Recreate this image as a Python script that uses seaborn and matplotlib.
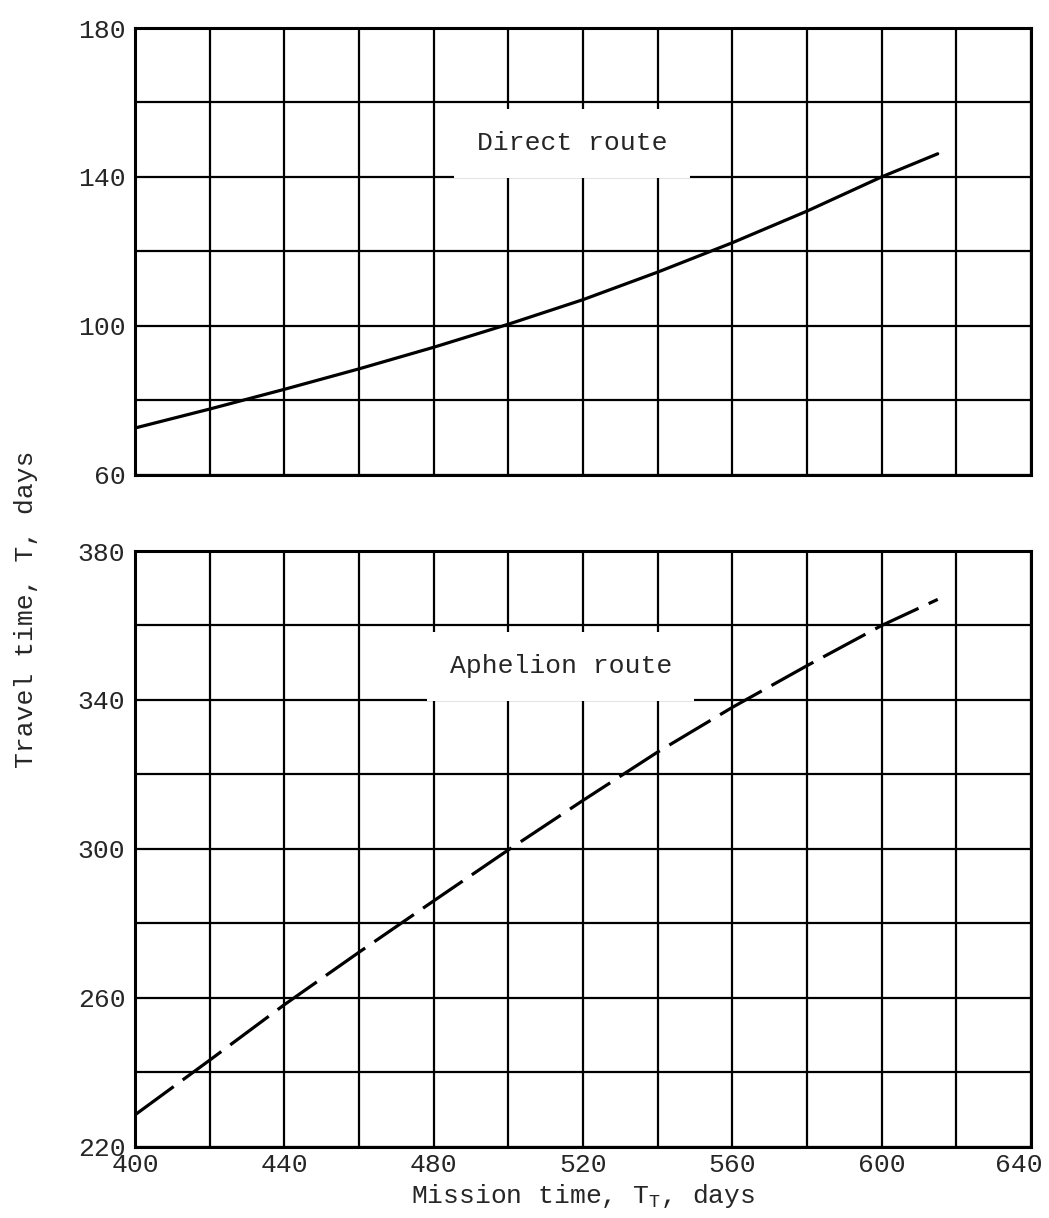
import numpy as np
import pandas as pd
import matplotlib
matplotlib.use("Agg")
import matplotlib.pyplot as plt
import matplotlib.transforms as mtransforms
import seaborn as sns

# values
mission_time = [400, 420, 440, 460, 480, 500, 520, 540, 560, 580, 600, 615]
direct_travel = [72.5, 77.6, 82.9, 88.4, 94.2, 100.4, 107.0, 114.4, 122.3, 130.8, 140.0, 146.2]
aphelion_travel = [228.5, 243.2, 258.1, 272.2, 286.0, 299.7, 313.0, 326.0, 338.0, 349.2, 360.0, 367.0]

x_ticks = [400, 440, 480, 520, 560, 600, 640]
top_ticks = [60, 100, 140, 180]
bottom_ticks = [220, 260, 300, 340, 380]

df = pd.DataFrame({"mission": mission_time,
                   "direct": direct_travel,
                   "aphelion": aphelion_travel})

sns.set_style("white")
plt.rcParams["font.family"] = ["Liberation Mono", "DejaVu Sans Mono"]
plt.rcParams["mathtext.fontset"] = "custom"
plt.rcParams["mathtext.rm"] = "Liberation Mono"
FS = 19

fig = plt.figure(figsize=(10.49, 12.18), dpi=100)
ax1 = fig.add_axes([0.1287, 0.6104, 0.8542, 0.3666])
ax2 = fig.add_axes([0.1287, 0.0587, 0.8542, 0.4889])

sns.lineplot(data=df, x="mission", y="direct", ax=ax1, color="black", linewidth=2.3)
sns.lineplot(data=df, x="mission", y="aphelion", ax=ax2, color="black", linewidth=2.3,
             linestyle=(0, (15, 3.5)))

for ax, yt, ylim in [(ax1, top_ticks, (60, 180)), (ax2, bottom_ticks, (220, 380))]:
    ax.set_xlim(400, 640)
    ax.set_ylim(*ylim)
    ax.set_xticks(x_ticks)
    ax.set_xticks(np.arange(400, 641, 20), minor=True)
    ax.set_yticks(yt)
    ax.set_yticks(np.arange(ylim[0], ylim[1] + 1, 20), minor=True)
    ax.grid(which="both", color="black", linewidth=1.6)
    ax.set_axisbelow(True)
    ax.tick_params(which="both", length=0, labelsize=FS)
    ax.tick_params(axis="y", pad=7)
    ax.tick_params(axis="x", pad=5)
    for s in ax.spines.values():
        s.set_color("black")
        s.set_linewidth(2.2)
    ax.set_ylabel("")
    ax.set_xlabel("")

ax1.set_xticklabels([])

# the last x label sits a bit left of its grid line, as in the original
last = ax2.get_xticklabels()[-1]
last.set_transform(last.get_transform() +
                   mtransforms.ScaledTranslation(-0.12, 0, fig.dpi_scale_trans))

ax1.text(517, 149, "Direct route", fontsize=FS, ha="center", va="center",
         bbox=dict(boxstyle="square,pad=0.85", fc="white", ec="none"), zorder=5)
ax2.text(514, 349, "Aphelion route", fontsize=FS, ha="center", va="center",
         bbox=dict(boxstyle="square,pad=0.85", fc="white", ec="none"), zorder=5)

ax2.set_xlabel(r"Mission time, T$_\mathregular{T}$, days", fontsize=FS, labelpad=3)
fig.text(0.025, 0.5, "Travel time, T, days", rotation=90, fontsize=FS,
         ha="center", va="center")

fig.savefig("out.png", dpi=100)
